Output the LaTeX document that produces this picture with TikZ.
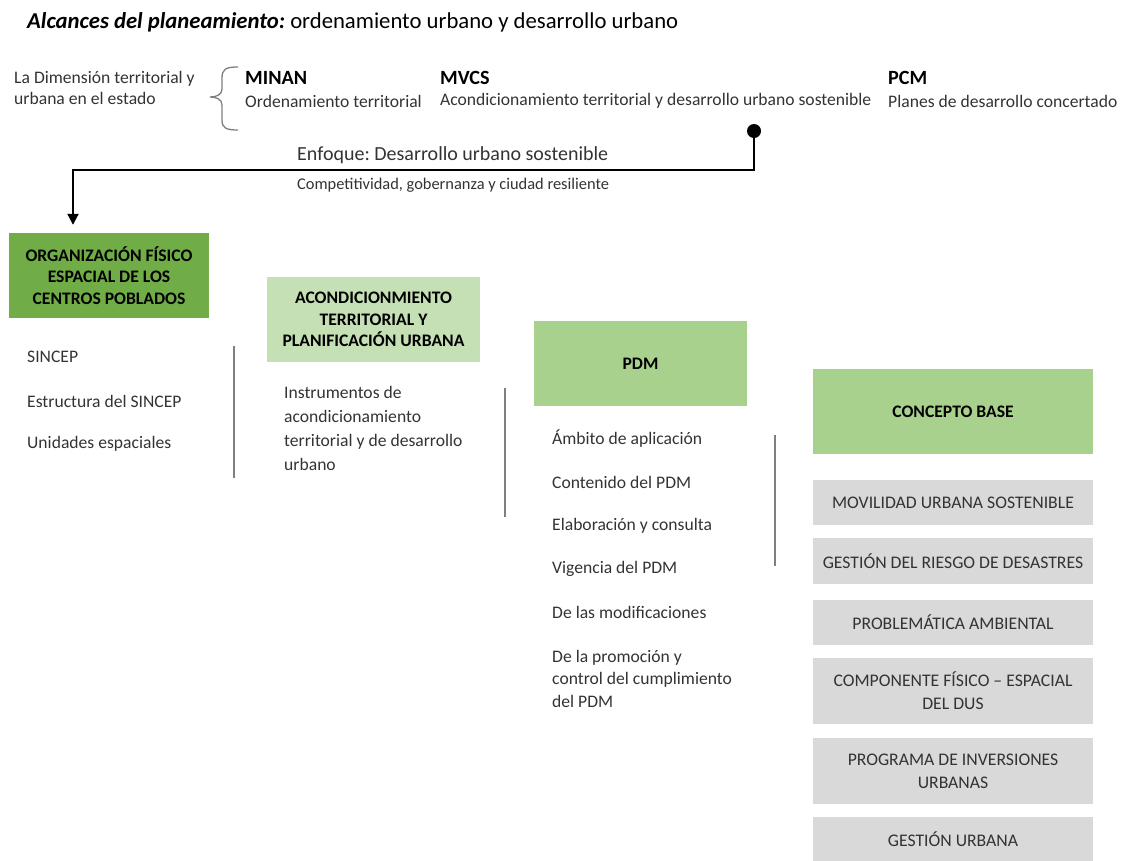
\documentclass[tikz,border=0pt]{standalone}
\usepackage{fontspec}
\setmainfont{Carlito}
\usetikzlibrary{arrows.meta}
\definecolor{darkgreen}{HTML}{70AD47}
\definecolor{palegreen}{HTML}{C5E0B4}
\definecolor{midgreen}{HTML}{A9D18E}
\definecolor{boxgray}{HTML}{D9D9D9}
\definecolor{rulegray}{HTML}{7F7F7F}
\definecolor{txt}{HTML}{333333}
\frenchspacing

\begin{document}
\begin{tikzpicture}[x=1pt,y=-1pt,
  body/.style={inner sep=0pt, anchor=west, align=left, text=txt,
    font=\fontsize{17.6}{22.5}\selectfont},
  head/.style={inner sep=0pt, anchor=west, text=black,
    font=\fontsize{20.2}{22}\selectfont\bfseries},
  topic/.style={inner sep=0pt, align=center, text=black,
    font=\fontsize{17.6}{21.5}\selectfont\bfseries},
  item/.style={fill=boxgray, inner sep=0pt, minimum width=280pt, align=center,
    text=txt, font=\fontsize{17.7}{23}\selectfont},
  divider/.style={draw=rulegray, line width=2pt},
  link/.style={line width=2pt, draw=black, -{Triangle[length=11pt,width=11pt]}}]

\useasboundingbox (0,0) rectangle (1121,860);

% title
\node[inner sep=0pt, anchor=west, font=\fontsize{22.7}{26}\selectfont] (title) at (27,22)
  {\textbf{\textit{Alcances del planeamiento:}} ordenamiento urbano y desarrollo urbano};

% territorial dimension and the three institutions
\node[body, font=\fontsize{17.6}{21}\selectfont] (dim) at (14,87.5)
  {La Dimensión territorial y\\urbana en el estado};
\draw[rulegray, line width=1.3pt]
  (238,67) .. controls (226,67) and (222,69) .. (222,78)
  -- (222,89) .. controls (222,95) and (216,97) .. (210,97)
  .. controls (216,97) and (222,99) .. (222,105)
  -- (222,120) .. controls (222,128) and (226,130) .. (238,130);

\node[head] (minan) at (245,78) {MINAN};
\node[body] (minan-d) at (245,101) {Ordenamiento territorial};
\node[head] (mvcs) at (440,78) {MVCS};
\node[body] (mvcs-d) at (440,101) {Acondicionamiento territorial y desarrollo urbano sostenible};
\node[head] (pcm) at (888,78) {PCM};
\node[body] (pcm-d) at (888,101) {Planes de desarrollo concertado};

% approach
\node[inner sep=0pt, anchor=west, text=txt, font=\fontsize{20}{22}\selectfont] (enfoque) at (297,155)
  {Enfoque: Desarrollo urbano sostenible};
\node[inner sep=0pt, anchor=west, text=txt, font=\fontsize{16.4}{18}\selectfont] (comp) at (297,185)
  {Competitividad, gobernanza y ciudad resiliente};

% main blocks
\node[topic, fill=darkgreen, minimum width=200pt, minimum height=85pt] (org) at (109,275.5)
  {ORGANIZACIÓN FÍSICO\\ESPACIAL DE LOS\\CENTROS POBLADOS};
\node[topic, fill=palegreen, minimum width=213pt, minimum height=85pt] (acond) at (373.5,319.5)
  {ACONDICIONMIENTO\\TERRITORIAL Y\\PLANIFICACIÓN URBANA};
\node[topic, fill=midgreen, minimum width=213pt, minimum height=85pt] (pdm) at (640.5,363.5)
  {PDM};
\node[topic, fill=midgreen, minimum width=280pt, minimum height=85pt] (base) at (953,411.5)
  {CONCEPTO BASE};

% connector from MVCS to the first block
\node[circle, fill=black, inner sep=0pt, minimum size=14pt] (dot) at (754,131) {};
\coordinate (bend) at (73,170);
\draw[link, shorten >=8pt] (dot.center) |- (bend) -- (bend |- org.north);

% contents of the first block
\node[body] (sincep) at (27,357) {SINCEP};
\node[body] (estr) at (27,401) {Estructura del SINCEP};
\node[body] (unid) at (27,444) {Unidades espaciales};
\draw[divider] (234,346) -- (234,478);

% contents of the second block
\node[body, font=\fontsize{17.6}{24}\selectfont] (instr) at (284,428)
  {Instrumentos de\\acondicionamiento\\territorial y de desarrollo\\urbano};
\draw[divider] (505,388) -- (505,517);

% contents of the PDM block
\node[body] (ambito) at (552,439) {Ámbito de aplicación};
\node[body] (conten) at (552,482) {Contenido del PDM};
\node[body] (elab) at (552,526) {Elaboración y consulta};
\node[body] (vig) at (552,569) {Vigencia del PDM};
\node[body] (modif) at (552,612) {De las modificaciones};
\node[body] (promo) at (552,678.5) {De la promoción y\\control del cumplimiento\\del PDM};
\draw[divider] (775,435) -- (775,566);

% base concept items
\node[item, minimum height=45pt] (movil) at (953,502.5) {MOVILIDAD URBANA SOSTENIBLE};
\node[item, minimum height=46pt] (riesgo) at (953,561) {GESTIÓN DEL RIESGO DE DESASTRES};
\node[item, minimum height=45pt] (ambient) at (953,622.5) {PROBLEMÁTICA AMBIENTAL};
\node[item, minimum height=66pt] (compo) at (953,691) {COMPONENTE FÍSICO – ESPACIAL\\DEL DUS};
\node[item, minimum height=66pt] (prog) at (953,771) {PROGRAMA DE INVERSIONES\\URBANAS};
\node[item, minimum height=44pt] (gestion) at (953,839) {GESTIÓN URBANA};

\end{tikzpicture}
\end{document}
